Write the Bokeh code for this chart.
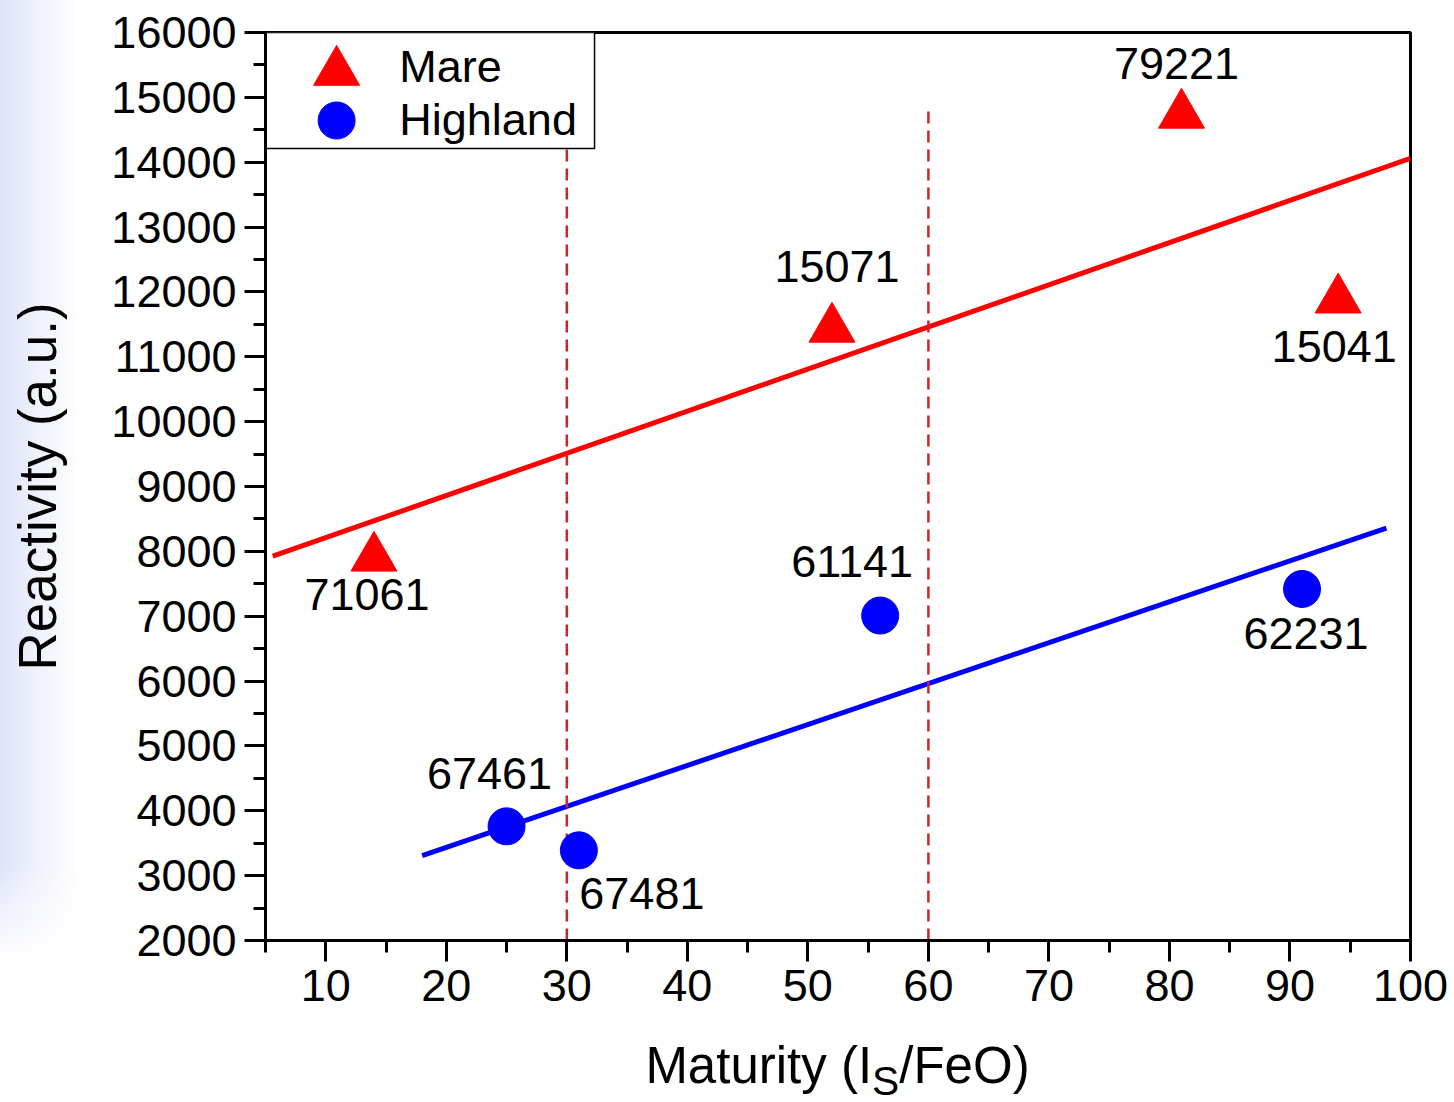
from bokeh.plotting import figure
from bokeh.models import FixedTicker, Range1d, ColumnDataSource, Div
from bokeh.layouts import column
from bokeh.core.properties import value
from bokeh.embed import file_html
from bokeh.resources import INLINE

# ---------------- data ----------------
mare_x = [14, 52, 81, 94]
mare_y = [7900, 11430, 14730, 11880]
mare_ids = ["71061", "15071", "79221", "15041"]

high_x = [25, 31, 56, 91]
high_y = [3760, 3390, 7010, 7420]
high_ids = ["67461", "67481", "61141", "62231"]

mare_fit_x = [5.6, 100]
mare_fit_y = [7925, 14060]
high_fit_x = [18, 98]
high_fit_y = [3310, 8360]

ref_x = [30, 60]
ref_y_bottom = [2000, 2000]
ref_y_top = [14800, 14800]

x_ticks = [10, 20, 30, 40, 50, 60, 70, 80, 90, 100]
x_minor = [5, 15, 25, 35, 45, 55, 65, 75, 85, 95]
y_ticks = [2000, 3000, 4000, 5000, 6000, 7000, 8000, 9000, 10000,
           11000, 12000, 13000, 14000, 15000, 16000]
y_minor = [2500, 3500, 4500, 5500, 6500, 7500, 8500, 9500, 10500,
           11500, 12500, 13500, 14500, 15500]

legend_labels = ["Mare", "Highland"]
x_title_html = 'Maturity (I<sub style="font-size:80%;vertical-align:-0.3em">S</sub>/FeO)'

# ---------------- layout / style ----------------
FONT = "Liberation Sans"
RED = "#ff0000"
BLUE = "#0000ff"
DASH = "#d2232a"

mare_dx = [-7, 5, -5, -4]
mare_dy = [37, -62, -51, 47]
high_dx = [-17, 63, -28, 4]
high_dy = [-53, 43, -54, 45]

FRAME_L, FRAME_W, FRAME_T, FRAME_H = 265, 1145, 32, 908

p = figure(width=1448, height=1040, output_backend="svg", toolbar_location=None,
           x_range=Range1d(5, 100), y_range=Range1d(2000, 16000),
           min_border_left=FRAME_L, min_border_right=38, min_border_top=FRAME_T,
           min_border_bottom=100)
p.border_fill_color = None
p.background_fill_color = "white"
p.grid.visible = False
p.outline_line_color = "black"
p.outline_line_width = 3

for ax in (p.xaxis[0], p.yaxis[0]):
    ax.axis_line_width = 3
    ax.major_tick_line_width = 3
    ax.minor_tick_line_width = 3
    ax.major_tick_out = 21
    ax.major_tick_in = 0
    ax.minor_tick_out = 12
    ax.minor_tick_in = 0
    ax.major_label_text_font = FONT
    ax.major_label_text_font_size = "45px"
    ax.major_label_text_color = "black"

p.xaxis.ticker = FixedTicker(ticks=x_ticks, minor_ticks=x_minor)
p.yaxis.ticker = FixedTicker(ticks=y_ticks, minor_ticks=y_minor)
p.xaxis.major_label_standoff = 8
p.yaxis.major_label_standoff = 8

p.yaxis.axis_label = "Reactivity (a.u.)"
p.yaxis.axis_label_text_font = FONT
p.yaxis.axis_label_text_font_size = "53px"
p.yaxis.axis_label_text_font_style = "normal"
p.yaxis.axis_label_text_color = "black"
p.yaxis.axis_label_standoff = 41

# fit lines
p.line(mare_fit_x, mare_fit_y, line_color=RED, line_width=5)
p.line(high_fit_x, high_fit_y, line_color=BLUE, line_width=5)

# reference dashed lines
p.segment(x0=ref_x, y0=ref_y_bottom, x1=ref_x, y1=ref_y_top,
          line_color=DASH, line_width=2.5, line_dash="12 7")

# points
p.scatter(mare_x, mare_y, marker="triangle", size=46, fill_color=RED, line_color=RED)
p.scatter(high_x, high_y, marker="circle", size=37, fill_color=BLUE, line_color=BLUE)

# point labels
src = ColumnDataSource(dict(x=mare_x + high_x, y=mare_y + high_y,
                            t=mare_ids + high_ids,
                            dx=mare_dx + high_dx, dy=mare_dy + high_dy))
p.text(x="x", y="y", text="t", x_offset="dx", y_offset="dy", source=src,
       text_font=value(FONT), text_font_size="45px", text_color="black",
       text_align="center", text_baseline="middle")

# legend (drawn inside the frame, top-left)
p.quad(left=[5], right=[32.3], top=[16000], bottom=[14212],
       fill_color="white", line_color="black", line_width=1.5)
p.scatter([10.9], [15391], marker="triangle", size=46, fill_color=RED, line_color=RED)
p.scatter([10.9], [14643], marker="circle", size=37, fill_color=BLUE, line_color=BLUE)
p.text(x=[16.1, 16.1], y=[15480, 14660], text=legend_labels,
       text_font=value(FONT), text_font_size="45px", text_color="black",
       text_align="left", text_baseline="middle")

# x axis title (with subscript) as HTML text under the plot
title = Div(text=x_title_html, width=FRAME_W, height=62,
            margin=(0, 0, 0, FRAME_L),
            styles={"text-align": "center", "font-family": FONT,
                    "font-size": "51px", "color": "black", "line-height": "52px",
                    "width": "%dpx" % FRAME_W})

layout = column(p, title, spacing=0,
                styles={"background": "linear-gradient(to bottom, rgba(255,255,255,0) 860px, #ffffff 960px), "
                                      "linear-gradient(to right, #dce2f9 0px, #eef1fc 35px, #ffffff 80px)"})

open("out.html", "w").write(file_html(layout, INLINE))
